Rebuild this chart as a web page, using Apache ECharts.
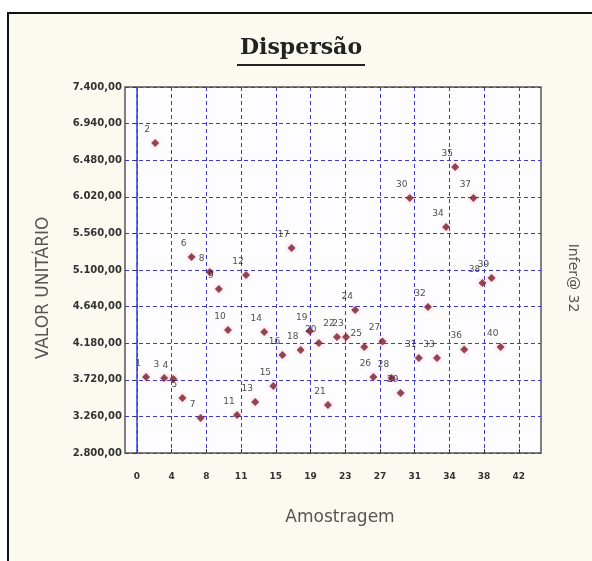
<!DOCTYPE html>
<html><head><meta charset="utf-8">
<script src="https://cdn.jsdelivr.net/npm/echarts@6/dist/echarts.min.js"></script>
<style>html,body{margin:0;padding:0;background:#fff}#c{width:592px;height:561px}</style>
</head><body><div id="c"></div>
<script>
// Sample numbers (Amostragem) and unit values (VALOR UNITÁRIO)
const sampleIds = [1,2,3,4,5,6,7,8,9,10,11,12,13,14,15,16,17,18,19,20,21,22,23,24,25,26,27,28,29,30,31,32,33,34,35,36,37,38,39,40];
const unitValues = [3755,6696,3743,3730,3491,5263,3240,5075,4861,4346,3278,5037,3441,4321,3642,4032,5376,4095,4330,4183,3403,4258,4258,4597,4132,3755,4200,3743,3554,6005,3994,4635,3994,5640,6395,4100,6005,4937,5000,4132];
const pointLabels = sampleIds.map(String);
const xTickValues = [0,1,2,3,4,5,6,7,8,9,10,11].map(k => k*42/11);
const yTickStart = 2800, yTickEnd = 7400, yTickStep = 460;

const chart = echarts.init(document.getElementById('c'));
const fmtY = v => {
  const s = Math.round(v).toString();
  return s.slice(0, s.length-3) + '.' + s.slice(-3) + ',00';
};
chart.setOption({
  animation: false,
  backgroundColor: 'transparent',
  graphic: [
    {type: 'rect', z: -10, shape: {x: 8, y: 13, width: 600, height: 560},
     style: {fill: '#fcf9f1', stroke: '#111', lineWidth: 2}},
    {type: 'text', x: 301, y: 59,
     style: {text: 'Dispersão', fontFamily: 'DejaVu Serif', fontWeight: 'bold', fontSize: 22, fill: '#222', align: 'center', verticalAlign: 'bottom'}},
    {type: 'line', shape: {x1: 237, y1: 65, x2: 365, y2: 65}, style: {stroke: '#222', lineWidth: 2}},
    {type: 'text', x: 44, y: 288, rotation: Math.PI/2,
     style: {text: 'VALOR UNITÁRIO', fontFamily: 'DejaVu Sans', fontSize: 17, fill: '#555', align: 'center', verticalAlign: 'middle'}},
    {type: 'text', x: 340, y: 518,
     style: {text: 'Amostragem', fontFamily: 'DejaVu Sans', fontSize: 17, fill: '#555', align: 'center', verticalAlign: 'middle'}},
    {type: 'text', x: 573, y: 278, rotation: -Math.PI/2,
     style: {text: 'Infer@ 32', fontFamily: 'DejaVu Sans', fontSize: 14, fill: '#555', align: 'center', verticalAlign: 'middle'}}
  ],
  grid: {left: 125, top: 87, width: 416, height: 366, show: true,
         backgroundColor: '#fdfdff', borderColor: '#555', borderWidth: 1.5},
  xAxis: {
    type: 'value', min: -1.32, max: 44.44,
    axisLine: {show: false},
    axisTick: {show: true, customValues: xTickValues, inside: true, length: 4, lineStyle: {color: '#333'}},
    axisLabel: {customValues: xTickValues, formatter: v => String(Math.round(v)),
      fontFamily: 'DejaVu Sans', fontSize: 9, fontWeight: 'bold', color: '#333', margin: 19},
    splitLine: {show: true, lineStyle: {color: '#3b3bc4', type: [4,3], width: 1}}
  },
  yAxis: {
    type: 'value', min: yTickStart, max: yTickEnd, interval: yTickStep,
    axisLine: {show: false},
    axisTick: {show: true, inside: false, length: 3, lineStyle: {color: '#333'}},
    axisLabel: {formatter: fmtY, fontFamily: 'DejaVu Sans', fontSize: 10, fontWeight: 'bold', color: '#333', margin: 3},
    splitLine: {show: true, lineStyle: {color: '#3b3bc4', type: [4,3], width: 1}}
  },
  series: [{
    type: 'scatter',
    data: sampleIds.map((x, i) => [x, unitValues[i], pointLabels[i]]),
    symbol: 'diamond', symbolSize: 8,
    itemStyle: {color: '#7a1c2c', shadowColor: 'rgba(230,120,140,0.6)', shadowBlur: 5},
    label: {show: true, formatter: p => p.data[2], position: 'top', offset: [-8, 0],
      fontFamily: 'DejaVu Sans', fontSize: 9, color: '#222'},
    markLine: {silent: true, symbol: 'none', label: {show: false},
      lineStyle: {color: '#3040d0', type: 'solid', width: 1.5},
      data: [{xAxis: 0}]}
  }]
});
</script>
</body></html>
